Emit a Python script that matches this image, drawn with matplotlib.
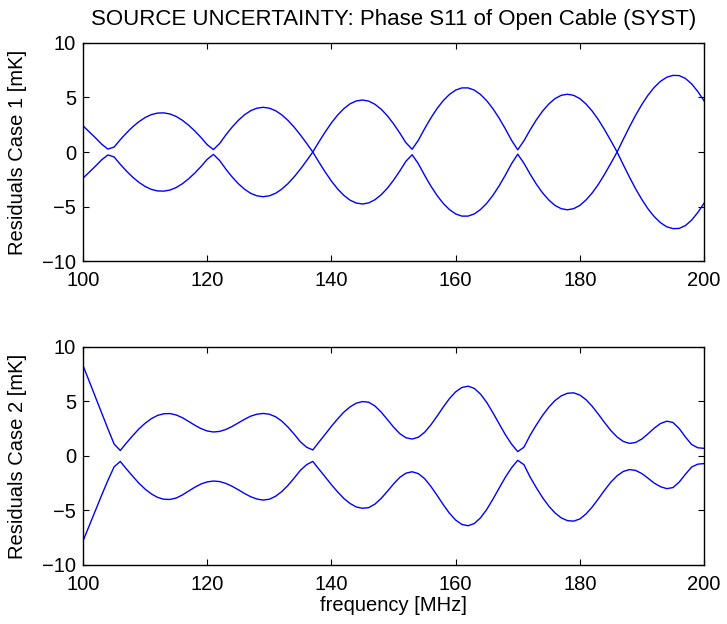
import numpy as np
import matplotlib
matplotlib.use("Agg")
import matplotlib.pyplot as plt

plt.rcParams['font.family'] = ['Liberation Sans', 'DejaVu Sans']

frequency = np.arange(100, 201, 1)  # MHz

case1_upper = [
    2.40, 1.85, 1.30, 0.72, 0.27, 0.45, 1.13, 1.75, 2.31, 2.78,
    3.16, 3.43, 3.57, 3.59, 3.49, 3.26, 2.91, 2.46, 1.93, 1.33,
    0.67, 0.22, 0.78, 1.57, 2.28, 2.90, 3.41, 3.79, 4.02, 4.10,
    4.02, 3.79, 3.41, 2.90, 2.28, 1.57, 0.80, 0.00, 0.94, 1.84,
    2.67, 3.39, 3.98, 4.42, 4.68, 4.77, 4.67, 4.38, 3.93, 3.33,
    2.59, 1.75, 0.85, 0.25, 1.08, 2.13, 3.11, 3.98, 4.71, 5.28,
    5.68, 5.88, 5.88, 5.68, 5.28, 4.71, 3.98, 3.11, 2.13, 1.08,
    0.20, 1.03, 2.03, 2.95, 3.75, 4.40, 4.90, 5.20, 5.30, 5.20,
    4.90, 4.40, 3.75, 2.95, 2.03, 1.03, 0.00, 1.17, 2.31, 3.39,
    4.37, 5.23, 5.94, 6.49, 6.86, 7.03, 7.01, 6.75, 6.25, 5.55,
    4.70,
]
case1_lower = [
    -2.40, -1.85, -1.30, -0.72, -0.27, -0.45, -1.13, -1.75, -2.31, -2.78,
    -3.16, -3.43, -3.57, -3.59, -3.49, -3.26, -2.91, -2.46, -1.93, -1.33,
    -0.67, -0.22, -0.78, -1.57, -2.28, -2.90, -3.41, -3.79, -4.02, -4.10,
    -4.02, -3.79, -3.41, -2.90, -2.28, -1.57, -0.80, 0.00, -0.94, -1.84,
    -2.67, -3.39, -3.98, -4.42, -4.68, -4.77, -4.67, -4.38, -3.93, -3.33,
    -2.59, -1.75, -0.85, -0.25, -1.08, -2.13, -3.11, -3.98, -4.71, -5.28,
    -5.68, -5.88, -5.88, -5.68, -5.28, -4.71, -3.98, -3.11, -2.13, -1.08,
    -0.20, -1.03, -2.03, -2.95, -3.75, -4.40, -4.90, -5.20, -5.30, -5.20,
    -4.90, -4.40, -3.75, -2.95, -2.03, -1.03, 0.00, -1.17, -2.31, -3.39,
    -4.37, -5.23, -5.94, -6.49, -6.86, -7.03, -7.01, -6.75, -6.25, -5.55,
    -4.70,
]

case2_upper = [
    8.30, 6.85, 5.40, 3.95, 2.50, 1.10, 0.50, 1.20, 1.86, 2.48,
    3.00, 3.42, 3.72, 3.87, 3.89, 3.76, 3.51, 3.17, 2.82, 2.51,
    2.29, 2.20, 2.25, 2.43, 2.70, 3.03, 3.36, 3.65, 3.83, 3.90,
    3.83, 3.60, 3.20, 2.65, 2.00, 1.30, 0.80, 0.55, 1.28, 1.99,
    2.72, 3.40, 4.02, 4.50, 4.84, 4.99, 4.93, 4.59, 4.03, 3.35,
    2.65, 2.05, 1.67, 1.55, 1.72, 2.17, 2.84, 3.64, 4.48, 5.26,
    5.88, 6.28, 6.40, 6.20, 5.68, 4.92, 3.97, 2.96, 1.96, 1.09,
    0.40, 0.80, 1.90, 2.85, 3.72, 4.47, 5.08, 5.51, 5.75, 5.79,
    5.59, 5.16, 4.55, 3.82, 3.05, 2.33, 1.74, 1.33, 1.15, 1.24,
    1.56, 2.04, 2.56, 2.98, 3.19, 3.07, 2.52, 1.74, 1.05, 0.75,
    0.70,
]
case2_lower = [
    -7.80, -6.40, -5.00, -3.60, -2.25, -1.00, -0.50, -1.20, -1.86, -2.50,
    -3.04, -3.48, -3.80, -3.97, -3.99, -3.86, -3.58, -3.22, -2.87, -2.57,
    -2.38, -2.30, -2.35, -2.52, -2.78, -3.10, -3.44, -3.74, -3.95, -4.05,
    -3.97, -3.70, -3.27, -2.70, -2.03, -1.32, -0.80, -0.50, -1.22, -1.92,
    -2.64, -3.30, -3.90, -4.36, -4.68, -4.80, -4.74, -4.42, -3.90, -3.25,
    -2.57, -1.97, -1.58, -1.45, -1.62, -2.08, -2.78, -3.60, -4.46, -5.25,
    -5.88, -6.28, -6.40, -6.20, -5.68, -4.92, -3.97, -2.96, -1.96, -1.09,
    -0.40, -0.80, -1.94, -2.92, -3.82, -4.60, -5.22, -5.68, -5.93, -5.98,
    -5.78, -5.32, -4.68, -3.92, -3.13, -2.40, -1.82, -1.42, -1.25, -1.33,
    -1.62, -2.05, -2.50, -2.82, -3.00, -2.90, -2.40, -1.68, -1.02, -0.75,
    -0.70,
]

title_text = "SOURCE UNCERTAINTY: Phase S11 of Open Cable (SYST)"
ylabel1 = "Residuals Case 1 [mK]"
ylabel2 = "Residuals Case 2 [mK]"
xlabel_text = "frequency [MHz]"
xticks = [100, 120, 140, 160, 180, 200]
yticks = [-10, -5, 0, 5, 10]

FS = 14.5
fig = plt.figure(figsize=(7.27, 6.24), dpi=100)
ax1 = fig.add_axes([0.1142, 0.5817, 0.8542, 0.3494])
ax2 = fig.add_axes([0.1142, 0.0946, 0.8542, 0.3494])

for ax, up, lo, yl in [(ax1, case1_upper, case1_lower, ylabel1),
                       (ax2, case2_upper, case2_lower, ylabel2)]:
    ax.plot(frequency, up, color=(0, 0, 1), lw=1.0)
    ax.plot(frequency, lo, color=(0, 0, 1), lw=1.0)
    ax.set_xlim(100, 200)
    ax.set_ylim(-10, 10)
    ax.set_xticks(xticks)
    ax.set_yticks(yticks)
    ax.tick_params(axis='both', direction='in', length=4.5, width=0.8,
                   top=True, right=True, labelsize=FS)
    ax.tick_params(axis='x', pad=7)
    ax.tick_params(axis='y', pad=5)
    for s in ax.spines.values():
        s.set_linewidth(1.0)
    ax.set_ylabel(yl, fontsize=FS, labelpad=11)

ax1.set_title(title_text, fontsize=16, pad=13)
ax2.set_xlabel(xlabel_text, fontsize=FS, labelpad=2)

fig.savefig("out.png", dpi=100)
